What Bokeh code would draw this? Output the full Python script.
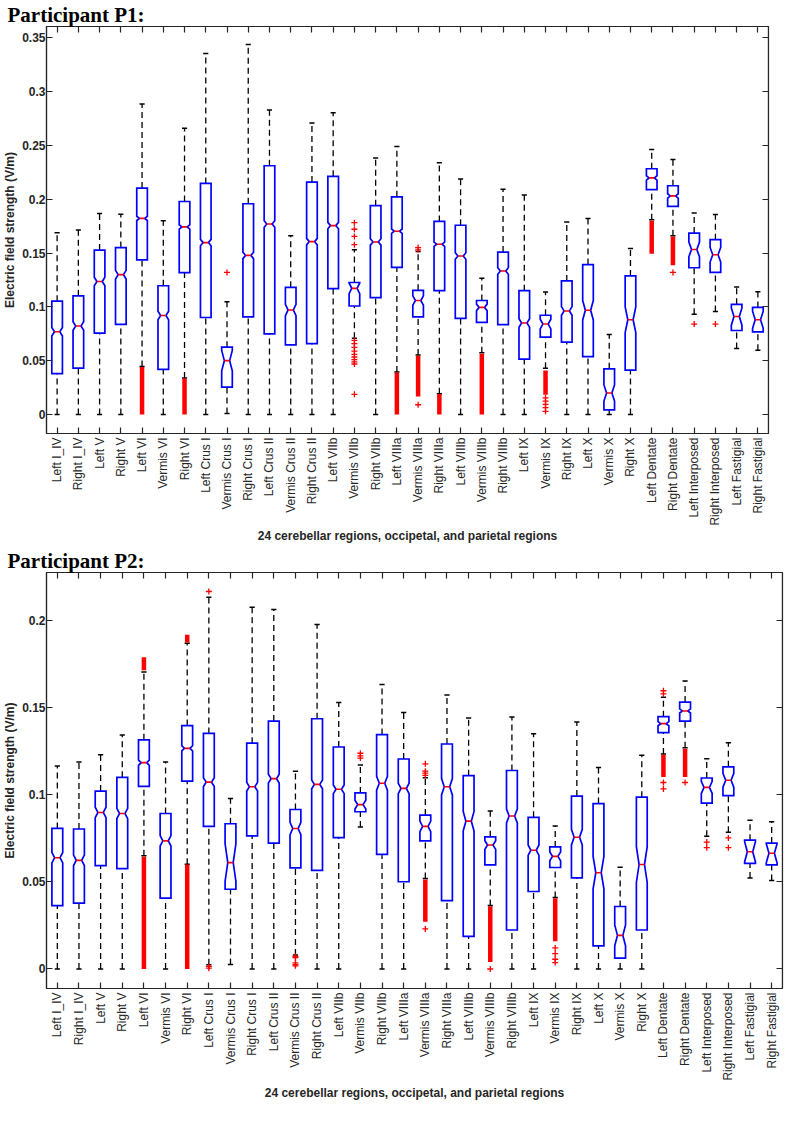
import math
from bokeh.plotting import figure
from bokeh.models import LinearAxis, FixedTicker, CustomJSTickFormatter, Range1d
from bokeh.embed import file_html
from bokeh.resources import INLINE

regions = ["Left I_IV", "Right I_IV", "Left V", "Right V", "Left VI", "Vermis VI", "Right VI",
           "Left Crus I", "Vermis Crus I", "Right Crus I", "Left Crus II", "Vermis Crus II",
           "Right Crus II", "Left VIIb", "Vermis VIIb", "Right VIIb", "Left VIIIa", "Vermis VIIIa",
           "Right VIIIa", "Left VIIIb", "Vermis VIIIb", "Right VIIIb", "Left IX", "Vermis IX",
           "Right IX", "Left X", "Vermis X", "Right X", "Left Dentate", "Right Dentate",
           "Left Interposed", "Right Interposed", "Left Fastigial", "Right Fastigial"]

# ---------------- Participant P1 ----------------
p1_wlo = [0, 0, 0, 0, 0.0447, 0, 0.034, 0, 0.001, 0, 0, 0, 0, 0, 0.071, 0, 0.0395, 0.0553,
          0.0194, 0, 0.0574, 0, 0, 0.0431, 0, 0, 0, 0, 0.181, 0.1662, 0.0933, 0.0957, 0.0614, 0.0598]
p1_q1 = [0.038, 0.0431, 0.0756, 0.0838, 0.1437, 0.0419, 0.1318, 0.0902, 0.0255, 0.0908, 0.075,
         0.0647, 0.0659, 0.117, 0.1009, 0.1087, 0.1367, 0.0908, 0.1151, 0.0893, 0.0857, 0.0835,
         0.0516, 0.072, 0.0674, 0.0538, 0.0043, 0.0413, 0.209, 0.1935, 0.1364, 0.1321, 0.0781, 0.0769]
p1_med = [0.0769, 0.0823, 0.1236, 0.130, 0.1823, 0.092, 0.1744, 0.1598, 0.0501, 0.1479, 0.1771,
          0.0972, 0.1607, 0.1756, 0.1173, 0.1604, 0.1704, 0.106, 0.1583, 0.1473, 0.0996, 0.1334,
          0.0851, 0.0841, 0.0963, 0.0969, 0.020, 0.0881, 0.2199, 0.2032, 0.1534, 0.1485, 0.0911, 0.0881]
p1_q3 = [0.1054, 0.1103, 0.1528, 0.1552, 0.2105, 0.1197, 0.198, 0.2148, 0.0626, 0.1959, 0.2312,
         0.1182, 0.216, 0.2214, 0.1227, 0.1941, 0.2023, 0.1154, 0.1795, 0.1759, 0.106, 0.151,
         0.1151, 0.0923, 0.1242, 0.1394, 0.0425, 0.1288, 0.2284, 0.2126, 0.1686, 0.1625, 0.1024, 0.0996]
p1_whi = [0.1689, 0.1716, 0.1868, 0.1862, 0.2886, 0.1801, 0.2661, 0.3354, 0.1048, 0.3439, 0.2831,
          0.1662, 0.271, 0.2804, 0.1531, 0.2385, 0.2491, 0.1516, 0.2339, 0.219, 0.1267, 0.2093,
          0.2041, 0.1139, 0.1789, 0.1823, 0.0744, 0.1543, 0.2464, 0.2369, 0.1874, 0.1859, 0.1185, 0.1142]
p1_notch = [0.004, 0.004, 0.004, 0.004, 0.002, 0.004, 0.002, 0.003, 0.0095, 0.003, 0.003, 0.0053,
            0.003, 0.003, 0.005, 0.003, 0.002, 0.0043, 0.002, 0.003, 0.003, 0.003, 0.004, 0.0045,
            0.004, 0.009, 0.0075, 0.012, 0.002, 0.002, 0.0068, 0.0068, 0.008, 0.008]
p1_out_cat = [9, 15, 15, 15, 15, 15, 15, 15, 15, 15, 15, 15, 15, 15, 15, 18, 18, 18,
              24, 24, 24, 24, 24, 30, 31, 32]
p1_out_val = [0.1321, 0.1783, 0.1722, 0.1655, 0.1579, 0.069, 0.066, 0.0625, 0.059, 0.056, 0.0535,
              0.051, 0.049, 0.047, 0.0188, 0.1552, 0.1531, 0.0091,
              0.0155, 0.0125, 0.0095, 0.0065, 0.003, 0.1321, 0.0841, 0.0841]
p1_band_cat = [5, 7, 17, 18, 19, 21, 24, 29, 30]
p1_band_lo = [0, 0, 0, 0.0167, 0, 0, 0.0185, 0.1494, 0.1388]
p1_band_hi = [0.0443, 0.0335, 0.039, 0.0547, 0.019, 0.0565, 0.041, 0.180, 0.1655]
p1_yticks = [0, 0.05, 0.1, 0.15, 0.2, 0.25, 0.3, 0.35]

# ---------------- Participant P2 ----------------
p2_wlo = [0, 0, 0, 0, 0.065, 0, 0.0602, 0.0025, 0.0026, 0, 0, 0.008, 0, 0, 0.0815, 0, 0, 0.052,
          0, 0, 0.0364, 0, 0, 0.0411, 0, 0, 0, 0, 0.1234, 0.1271, 0.0763, 0.0785, 0.0523, 0.0508]
p2_q1 = [0.0364, 0.0378, 0.0594, 0.0576, 0.1049, 0.0407, 0.1079, 0.0819, 0.0458, 0.0764, 0.0723,
         0.0581, 0.0566, 0.0755, 0.0903, 0.0658, 0.0501, 0.0736, 0.0393, 0.0187, 0.0598, 0.0224,
         0.0445, 0.0583, 0.0523, 0.0133, 0.0062, 0.0224, 0.1357, 0.1424, 0.0953, 0.0996, 0.0606, 0.0598]
p2_med = [0.0639, 0.0624, 0.0899, 0.0893, 0.1185, 0.0736, 0.1267, 0.1073, 0.0611, 0.1047, 0.1093,
          0.0807, 0.106, 0.1032, 0.0944, 0.1067, 0.1037, 0.0819, 0.1047, 0.0849, 0.0712, 0.0879,
          0.0682, 0.0647, 0.0757, 0.0553, 0.0193, 0.060, 0.1409, 0.1482, 0.1043, 0.1084, 0.0673, 0.0665]
p2_q3 = [0.0807, 0.0804, 0.1022, 0.1101, 0.1316, 0.0893, 0.1398, 0.1353, 0.0834, 0.1297, 0.1424,
         0.0916, 0.1437, 0.1275, 0.1011, 0.1346, 0.1206, 0.0884, 0.1292, 0.111, 0.0759, 0.114,
         0.0871, 0.0701, 0.0993, 0.095, 0.0359, 0.0987, 0.1449, 0.1533, 0.1097, 0.1161, 0.074, 0.0723]
p2_whi = [0.1166, 0.1189, 0.123, 0.1344, 0.1705, 0.1189, 0.187, 0.2135, 0.0979, 0.2077, 0.2065,
          0.1136, 0.1978, 0.1531, 0.1172, 0.1634, 0.1473, 0.1099, 0.1574, 0.1441, 0.0907, 0.1447,
          0.1351, 0.0821, 0.1419, 0.1157, 0.0585, 0.1228, 0.156, 0.1654, 0.1207, 0.1299, 0.0854, 0.0845]
p2_notch = [0.003, 0.003, 0.003, 0.003, 0.0015, 0.003, 0.0015, 0.0025, 0.0108, 0.0025, 0.0025,
            0.0035, 0.0025, 0.0025, 0.0025, 0.004, 0.003, 0.003, 0.0047, 0.0056, 0.0025, 0.004,
            0.003, 0.0025, 0.0045, 0.0093, 0.006, 0.0103, 0.0012, 0.0012, 0.0035, 0.004, 0.0058, 0.0055]
p2_out_cat = [8, 8, 8, 12, 12, 12, 12, 12, 15, 15, 15, 18, 18, 18, 18, 18, 21, 24, 24, 24, 24,
              29, 29, 29, 29, 30, 31, 31, 32, 32]
p2_out_val = [0.2168, 0.0015, 0.0005, 0.0072, 0.0065, 0.0035, 0.0025, 0.0018, 0.1239, 0.1224, 0.1211,
              0.1178, 0.1136, 0.1125, 0.1112, 0.023, 0.0, 0.0121, 0.0088, 0.0056, 0.0037,
              0.1598, 0.158, 0.1071, 0.1034, 0.1071, 0.0729, 0.0697, 0.0753, 0.0697]
p2_band_cat = [5, 5, 7, 7, 18, 21, 24, 29, 30]
p2_band_lo = [0.1716, 0, 0.1875, 0, 0.0271, 0.004, 0.0159, 0.1103, 0.1103]
p2_band_hi = [0.179, 0.0645, 0.192, 0.060, 0.0514, 0.036, 0.0406, 0.123, 0.1265]
p2_yticks = [0, 0.05, 0.1, 0.15, 0.2]

x_title = "24 cerebellar regions, occipetal, and parietal regions"
y_title = "Electric field strength (V/m)"

AX = "#262626"
BLUE = "#0000FF"
RED = "#FF0000"
W = 0.25      # half box width
CAP = 0.12    # half cap width


def blank_axis(ticks, loc):
    ax = LinearAxis(ticker=FixedTicker(ticks=ticks, minor_ticks=[]),
                    formatter=CustomJSTickFormatter(code="return '';"), fixed_location=loc)
    ax.major_label_text_font_size = "0px"
    ax.major_label_standoff = 0
    ax.axis_label_text_font_size = "0px"
    ax.axis_label_standoff = 0
    return ax


def make_panel(title, wlo, q1, med, q3, whi, notch, out_cat, out_val, band_cat, band_lo, band_hi,
               yr, yticks, width, height, b_left, b_right, b_top, b_bottom, xlab_standoff):
    p = figure(width=width, height=height, output_backend="svg", toolbar_location=None,
               x_range=Range1d(0.5, 34.5), y_range=Range1d(*yr), title=title,
               min_border_left=b_left, min_border_right=b_right,
               min_border_top=b_top, min_border_bottom=b_bottom,
               x_axis_type=None, y_axis_type=None)
    p.title.text_font = "Liberation Serif"
    p.title.text_font_size = "21px"
    p.title.text_font_style = "bold"
    p.title.text_color = "black"
    p.title.align = "left"
    p.title.offset = -b_left
    if "standoff" in p.title.properties():
        p.title.standoff = 0
    p.xgrid.visible = False
    p.ygrid.visible = False
    p.outline_line_color = AX
    p.outline_line_width = 1.2
    p.background_fill_color = "white"
    p.border_fill_color = "white"

    n = len(regions)
    xs = list(range(1, n + 1))

    xb = LinearAxis(ticker=FixedTicker(ticks=xs, minor_ticks=[]),
                    major_label_overrides={i + 1: r for i, r in enumerate(regions)},
                    axis_label=x_title)
    xb.major_label_orientation = math.pi / 2
    xb.major_label_text_font = "Liberation Sans"
    xb.major_label_text_font_size = "12px"
    xb.major_label_text_color = AX
    xb.major_label_standoff = 4
    xb.axis_label_text_font = "Liberation Sans"
    xb.axis_label_text_font_size = "12px"
    xb.axis_label_text_font_style = "bold"
    xb.axis_label_text_color = AX
    xb.axis_label_standoff = xlab_standoff
    p.add_layout(xb, "below")

    # mirrored tick marks on the top and right edges (MATLAB box style)
    xa = blank_axis(xs, yr[1])
    p.add_layout(xa, "above")
    yr_ax = blank_axis(yticks, 34.5)
    p.add_layout(yr_ax, "right")

    fmt = CustomJSTickFormatter(code="return String(Math.round(tick*100)/100);")
    yl = LinearAxis(ticker=FixedTicker(ticks=yticks, minor_ticks=[]), formatter=fmt,
                    axis_label=y_title)
    yl.major_label_text_font = "Liberation Sans"
    yl.major_label_text_font_size = "12px"
    yl.major_label_text_font_style = "bold"
    yl.major_label_text_color = AX
    yl.major_label_standoff = 1
    yl.axis_label_text_font = "Liberation Sans"
    yl.axis_label_text_font_size = "12px"
    yl.axis_label_text_font_style = "bold"
    yl.axis_label_text_color = AX
    yl.axis_label_standoff = 2
    p.add_layout(yl, "left")

    for ax in (xb, xa, yl, yr_ax):
        ax.axis_line_color = AX
        ax.axis_line_width = 1.2
        ax.major_tick_line_color = AX
        ax.major_tick_line_width = 1.2
        ax.major_tick_in = 6
        ax.major_tick_out = 0
        ax.minor_tick_line_color = None

    # whiskers (dashed)
    p.segment(x0=xs, y0=q3, x1=xs, y1=whi, line_color="black", line_width=1.3, line_dash="6 4")
    p.segment(x0=xs, y0=wlo, x1=xs, y1=q1, line_color="black", line_width=1.3, line_dash="6 4")
    # caps
    p.segment(x0=[x - CAP for x in xs], y0=whi, x1=[x + CAP for x in xs], y1=whi,
              line_color="black", line_width=1.5)
    p.segment(x0=[x - CAP for x in xs], y0=wlo, x1=[x + CAP for x in xs], y1=wlo,
              line_color="black", line_width=1.5)

    # notched boxes
    bx, by = [], []
    for x, a, m, b, nh in zip(xs, q1, med, q3, notch):
        bx.append([x - W, x - W, x - W / 2, x - W, x - W, x + W, x + W, x + W / 2, x + W, x + W])
        by.append([a, m - nh, m, m + nh, b, b, m + nh, m, m - nh, a])
    p.patches(bx, by, fill_alpha=0, line_color=BLUE, line_width=1.7, line_join="miter")

    # medians
    p.segment(x0=[x - W / 2 for x in xs], y0=med, x1=[x + W / 2 for x in xs], y1=med,
              line_color=RED, line_width=1.6)

    # dense outlier runs and single outliers
    p.segment(x0=band_cat, y0=band_lo, x1=band_cat, y1=band_hi, line_color=RED, line_width=4.5)
    p.scatter(x=out_cat, y=out_val, marker="cross", size=6, line_color=RED, line_width=1.3)
    return p


p1 = make_panel("Participant P1:", p1_wlo, p1_q1, p1_med, p1_q3, p1_whi, p1_notch,
                p1_out_cat, p1_out_val, p1_band_cat, p1_band_lo, p1_band_hi,
                (-0.0176, 0.3606), p1_yticks, 779, 545, 39, 11, 24, 107, 0)
p2 = make_panel("Participant P2:", p2_wlo, p2_q1, p2_med, p2_q3, p2_whi, p2_notch,
                p2_out_cat, p2_out_val, p2_band_cat, p2_band_lo, p2_band_hi,
                (-0.0112, 0.2277), p2_yticks, 787, 557, 39, 5, 27, 107, 2)

# two independent roots stacked on the page (no cross-plot frame alignment)
open("out.html", "w").write(file_html([p1, p2], INLINE))
